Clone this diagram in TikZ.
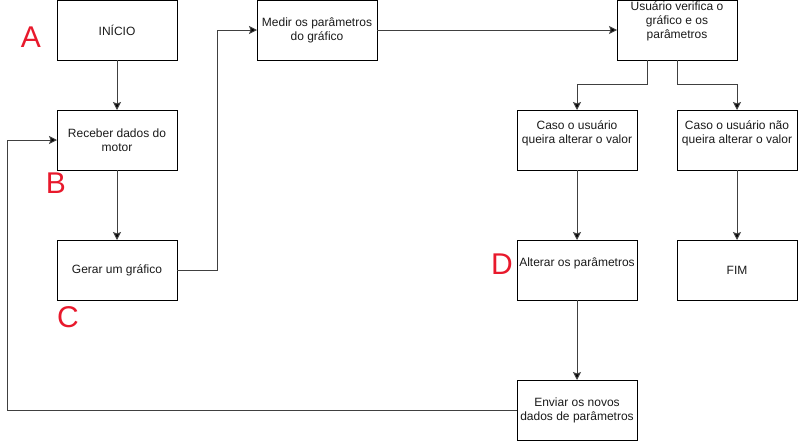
\documentclass[tikz,border=0pt]{standalone}
\usepackage{fontspec}
\setmainfont{Liberation Sans}
\usetikzlibrary{arrows.meta}
\definecolor{marker}{HTML}{E8192C}
\definecolor{wire}{HTML}{404040}
\definecolor{ink}{HTML}{1A1A1A}
\tikzset{
  box/.style={draw=black, line width=1pt, minimum width=120pt, minimum height=60pt,
    inner sep=0pt, outer sep=0pt, font=\fontsize{12}{14}\selectfont, text=ink, align=center},
  txt/.style={inner sep=0pt, font=\fontsize{12}{14}\selectfont, text=ink, align=center},
  flow/.style={draw=wire, line width=1pt, -{Stealth[length=8pt,width=8pt,inset=1.5pt,fill=black]}},
  tag/.style={inner sep=0pt, font=\fontsize{30}{34}\selectfont, text=marker}
}
\begin{document}
\begin{tikzpicture}[x=1pt,y=-1pt]
\useasboundingbox (0,0) rectangle (799,442);

% process boxes
\node[box] (inicio)   at (117,30)  {INÍCIO};
\node[box] (receber)  at (117,140) {Receber dados do\\motor};
\node[box] (gerar)    at (117,270) {Gerar um gráfico};
\node[box] (medir)    at (317,30)  {Medir os parâmetros\\do gráfico};
\node[box] (usuario)  at (677,30)  {};
\node[txt] (usuariot) at (677,21)  {Usuário verifica o\\gráfico e os\\parâmetros};
\node[box] (caso1)    at (577,140) {};
\node[txt] (caso1t)   at (577,133) {Caso o usuário\\queira alterar o valor};
\node[box] (caso2)    at (737,140) {};
\node[txt] (caso2t)   at (737,133) {Caso o usuário não\\queira alterar o valor};
\node[box] (alterar)  at (577,270) {};
\node[txt] (alterart) at (577,263) {Alterar os parâmetros};
\node[box] (fim)      at (737,270) {FIM};
\node[box] (enviar)   at (577,410) {Enviar os novos\\dados de parâmetros};

% step markers
\node[tag] (ta) at (31,37)  {A};
\node[tag] (tb) at (56,183) {B};
\node[tag] (tc) at (68,317) {C};
\node[tag] (td) at (502,264) {D};

% connectors
\draw[flow] (inicio.south) -- (receber.north);
\draw[flow] (receber.south) -- (gerar.north);
\draw[flow] (gerar.east) -- ++(40,0) |- (medir.west);
\draw[flow] (medir.east) -- (usuario.west);
\draw[flow] ([xshift=-30pt]usuario.south) -- ++(0,24) -| (caso1.north);
\draw[flow] (usuario.south) -- ++(0,24) -| (caso2.north);
\draw[flow] (caso1.south) -- (alterar.north);
\draw[flow] (caso2.south) -- (fim.north);
\draw[flow] (alterar.south) -- (enviar.north);
\draw[flow] (enviar.west) -- ++(-510,0) |- (receber.west);
\end{tikzpicture}
\end{document}
